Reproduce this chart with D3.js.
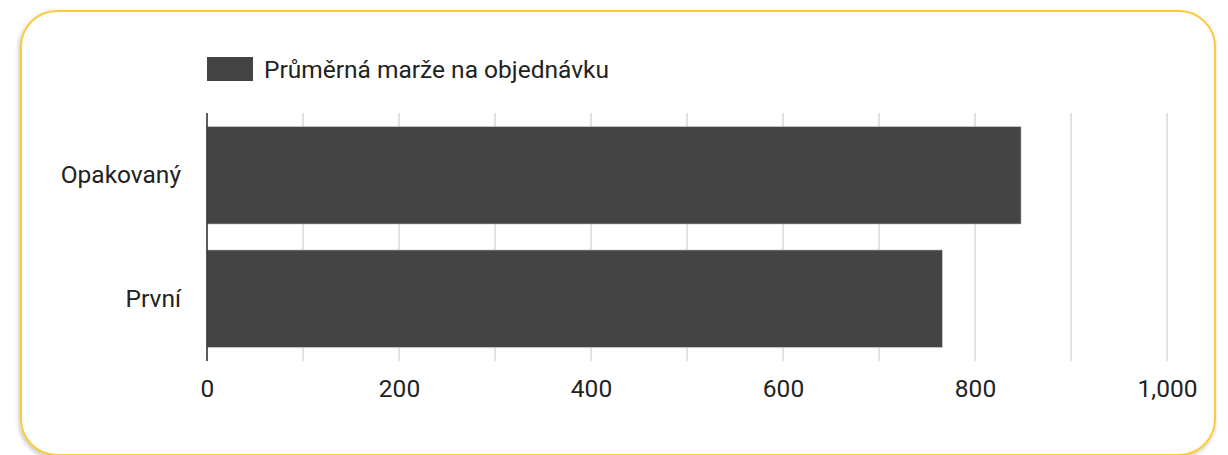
<!DOCTYPE html>
<html lang="cs">
<head>
<meta charset="UTF-8">
<title>Průměrná marže na objednávku</title>
<script src="https://cdn.jsdelivr.net/npm/d3@7"></script>
<style>
  body { margin: 0; background: #fff; font-family: Roboto, "Noto Sans", sans-serif; }
</style>
</head>
<body>
<div id="container"></div>
<script>
// data
const categories = ["Opakovaný", "První"];
const marze = [848, 766];
const xTicks = [0, 200, 400, 600, 800, 1000];
const gridTicks = [0, 100, 200, 300, 400, 500, 600, 700, 800, 900, 1000];
const seriesName = "Průměrná marže na objednávku";

const w = 1228, h = 455;
const svg = d3.select("#container").append("svg").attr("width", w).attr("height", h);

// card with yellow border + faint shadow
const defs = svg.append("defs");
const f = defs.append("filter").attr("id", "sh").attr("x", "-5%").attr("y", "-5%").attr("width", "110%").attr("height", "115%");
f.append("feDropShadow").attr("dx", -1).attr("dy", 2).attr("stdDeviation", 2).attr("flood-color", "#000").attr("flood-opacity", 0.25);
svg.append("rect").attr("x", 21).attr("y", 11).attr("width", 1194).attr("height", 444)
  .attr("rx", 36).attr("fill", "#fff").attr("stroke", "#fbcb3c").attr("stroke-width", 2)
  .attr("filter", "url(#sh)");

const x = d3.scaleLinear().domain([0, 1000]).range([207, 1167]);
const y = d3.scaleBand().domain(categories).range([113, 361]).paddingInner(0.21).paddingOuter(0.11);

// gridlines
svg.append("g").selectAll("line").data(gridTicks.slice(1)).join("line")
  .attr("x1", d => x(d)).attr("x2", d => x(d))
  .attr("y1", 113).attr("y2", 361)
  .attr("stroke", "#d9d9d9").attr("stroke-width", 1.5);

// bars
svg.append("g").selectAll("rect").data(marze).join("rect")
  .attr("x", x(0))
  .attr("y", (d, i) => y(categories[i]))
  .attr("width", d => x(d) - x(0))
  .attr("height", y.bandwidth())
  .attr("fill", "#444444")
  .attr("stroke", "#cfcfcf").attr("stroke-width", 0.6);

// baseline
svg.append("line").attr("x1", x(0)).attr("x2", x(0)).attr("y1", 113).attr("y2", 361)
  .attr("stroke", "#333").attr("stroke-width", 1.6);

// x axis labels
const xAx = d3.axisBottom(x).tickValues(xTicks).tickSize(0).tickPadding(0)
  .tickFormat(d3.format(","));
const gx = svg.append("g").attr("transform", "translate(0,397)").call(xAx);
gx.select(".domain").remove();
gx.selectAll("text").attr("font-family", "Roboto, sans-serif").attr("font-size", 24.5)
  .attr("fill", "#222").attr("dy", 0).attr("y", 0);

// y axis labels
const yAx = d3.axisLeft(y).tickSize(0).tickPadding(0);
const gy = svg.append("g").attr("transform", "translate(181,0)").call(yAx);
gy.select(".domain").remove();
gy.selectAll("text").attr("font-family", "Roboto, sans-serif").attr("font-size", 24.5).attr("fill", "#222");

// legend
svg.append("rect").attr("x", 207).attr("y", 57).attr("width", 46).attr("height", 24).attr("fill", "#444444");
svg.append("text").attr("x", 264).attr("y", 78).attr("font-size", 24.5).attr("fill", "#222")
  .attr("font-family", "Roboto, sans-serif").text(seriesName);
</script>
</body>
</html>
